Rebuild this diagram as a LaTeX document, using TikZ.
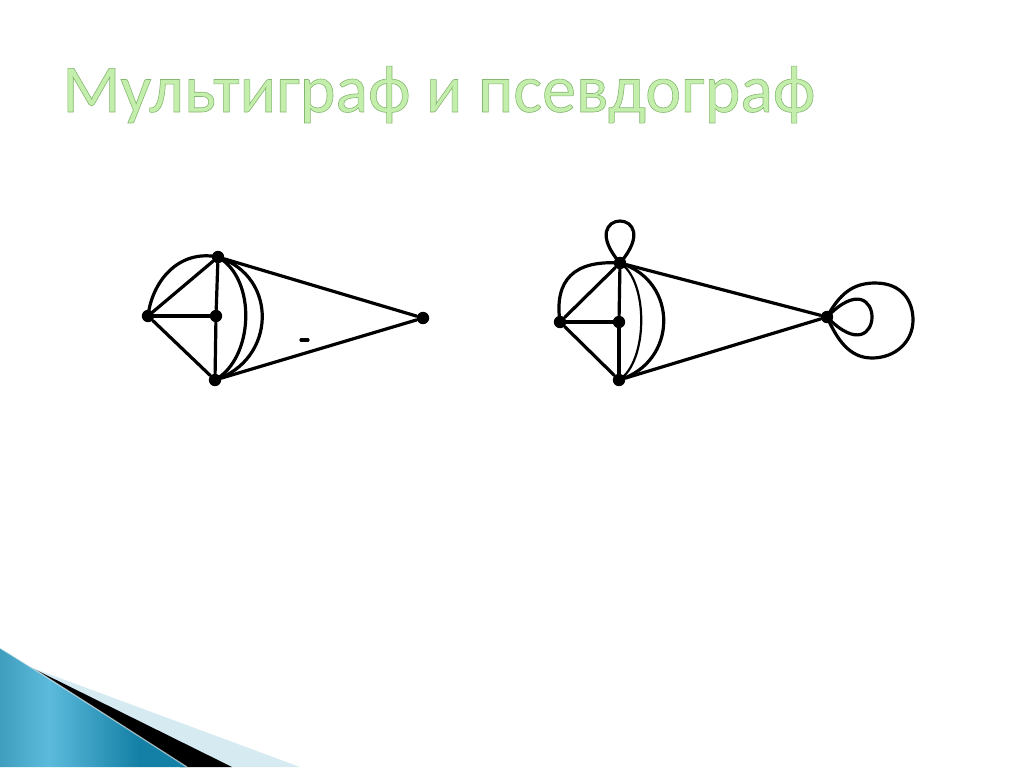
\documentclass[tikz,border=0pt]{standalone}
\usepackage{fontspec}
\setmainfont{Carlito}
\usetikzlibrary{calc}
\definecolor{titlefill}{RGB}{196,238,172}
\definecolor{tealdark}{RGB}{8,98,128}
\definecolor{teallight}{RGB}{92,187,220}
\definecolor{tealright}{RGB}{20,128,165}
\definecolor{paleblue}{RGB}{214,234,242}
\pgfdeclarehorizontalshading{tealband}{100bp}{color(0bp)=(tealdark); color(38bp)=(teallight); color(62bp)=(tealright); color(100bp)=(tealright)}
\begin{document}
\begin{tikzpicture}[x=0.5pt,y=0.5pt,
  vertex/.style={circle,fill=black,inner sep=0pt,minimum size=6.2pt},
  edge/.style={line width=1.6pt,line cap=round,line join=round},
  thinedge/.style={line width=1.1pt,line cap=round}]
\useasboundingbox (0,0) rectangle (1024,-767);
\fill[white] (0,0) rectangle (1024,-767);

% bottom-left decoration
\fill[paleblue] (30,-667) -- (300,-767) -- (225,-767) -- cycle;
\fill[black] (28,-666) -- (232,-767) -- (180,-767) -- cycle;
\shade[shading=tealband]
  (0,-648) .. controls (30,-666) and (120,-724) .. (187,-767) -- (0,-767) -- cycle;
\draw[white,opacity=0.6,line width=0.6pt] (0,-648) .. controls (30,-666) and (120,-724) .. (187,-767);

% title
\node[anchor=base west,inner sep=0pt,font=\fontsize{34}{40}\selectfont] (title) at (62,-112)
  {\color{titlefill}\special{pdf:literal direct 0.52 0.72 0.44 RG 2 Tr 0.3 w}Мультиграф и псевдограф\special{pdf:literal direct 0 Tr}};

% graph 1 (multigraph)
\node[vertex] (L) at (148,-316) {};
\node[vertex] (T) at (218,-257) {};
\node[vertex] (C) at (216,-316) {};
\node[vertex] (B) at (215,-380) {};
\node[vertex] (R) at (423,-318) {};
\draw[edge] (L) -- (T);
\draw[edge] (L) -- (C);
\draw[edge] (L) -- (B);
\draw[edge] (T) -- (C);
\draw[edge] (C) -- (B);
\draw[edge] (L.center) .. controls ($(L.center)+(4,34)$) and ($(T.center)+(-40,8)$) .. (T.center);
\draw[edge] (T.center) .. controls ($(T.center)+(39,-22)$) and ($(B.center)+(39,22)$) .. (B.center);
\draw[edge] (T.center) .. controls ($(T.center)+(61,-20)$) and ($(B.center)+(61,20)$) .. (B.center);
\draw[edge] (T) -- (R);
\draw[edge] (B) -- (R);
\coordinate (m1) at (301,-340);
\coordinate (m2) at (308,-340);
\draw[edge] (m1) -- (m2);

% graph 2 (pseudograph)
\node[vertex] (L2) at (560,-322) {};
\node[vertex] (T2) at (620,-263) {};
\node[vertex] (C2) at (619,-322) {};
\node[vertex] (B2) at (619,-380) {};
\node[vertex] (R2) at (827,-317) {};
\draw[edge] (L2) -- (T2);
\draw[edge] (L2) -- (C2);
\draw[edge] (L2) -- (B2);
\draw[edge] (T2) -- (C2);
\draw[edge] (C2) -- (B2);
\draw[edge] (L2.center) .. controls ($(L2.center)+(-6,42)$) and ($(T2.center)+(-46,3)$) .. (T2.center);
\draw[thinedge] (T2.center) .. controls ($(T2.center)+(29,-18)$) and ($(B2.center)+(29,18)$) .. (B2.center);
\draw[edge] (T2.center) .. controls ($(T2.center)+(59,-18)$) and ($(B2.center)+(59,18)$) .. (B2.center);
\draw[edge] (T2) -- (R2);
\draw[edge] (B2) -- (R2);
% loop at T2
\draw[edge] (T2.center) .. controls ($(T2.center)+(-48,56)$) and ($(T2.center)+(48,56)$) .. (T2.center);
% loops at R2
\draw[edge] (R2.center) .. controls ($(R2.center)+(60,62)$) and ($(R2.center)+(60,-62)$) .. (R2.center);
\draw[edge] (R2.center) .. controls ($(R2.center)+(12,22)$) and ($(R2.center)+(25,34)$) .. ($(R2.center)+(48,34)$)
  .. controls ($(R2.center)+(75,34)$) and ($(R2.center)+(86,16)$) .. ($(R2.center)+(86,-3)$)
  .. controls ($(R2.center)+(86,-25)$) and ($(R2.center)+(68,-41)$) .. ($(R2.center)+(45,-41)$)
  .. controls ($(R2.center)+(22,-41)$) and ($(R2.center)+(10,-22)$) .. (R2.center);
\end{tikzpicture}
\end{document}
